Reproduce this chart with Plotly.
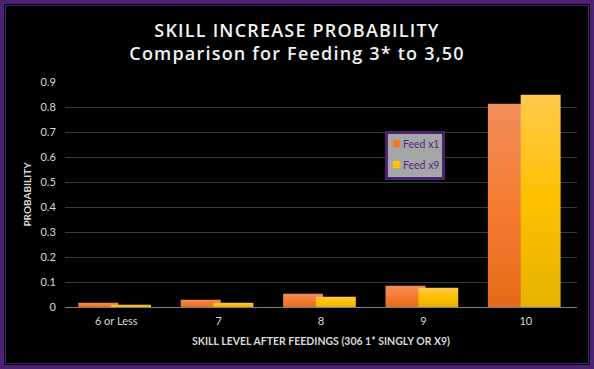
import plotly.graph_objects as go

categories = ["6 or Less", "7", "8", "9", "10"]
feed_x1 = [0.017, 0.029, 0.053, 0.085, 0.813]
feed_x9 = [0.009, 0.017, 0.041, 0.077, 0.849]
series_names = ["Feed x1", "Feed x9"]
y_ticks = [0, 0.1, 0.2, 0.3, 0.4, 0.5, 0.6, 0.7, 0.8, 0.9]

W, H = 594, 369
L, R, T, B = 65, 17, 82, 62
pw, ph = W - L - R, H - T - B

def px_x(p):
    return (p - L) / pw

def px_y(p):
    return (H - B - p) / ph

PURPLE = "#4B2272"
TXT = "#D9D9D9"

fig = go.Figure()
fig.add_trace(go.Bar(x=categories, y=feed_x1, name=series_names[0],
                     marker=dict(color="#F27A2C", line=dict(width=0)),
                     width=0.39, offset=-0.37))
fig.add_trace(go.Bar(x=categories, y=feed_x9, name=series_names[1],
                     marker=dict(color="#FDC10C", line=dict(width=0)),
                     width=0.39, offset=-0.05))

shapes = [
    dict(type="rect", xref="paper", yref="paper", layer="below",
         x0=px_x(4), x1=px_x(590), y0=px_y(365), y1=px_y(4),
         fillcolor="black", line=dict(width=0)),
    dict(type="rect", xref="paper", yref="paper", layer="below",
         x0=px_x(5.5), x1=px_x(588.5), y0=px_y(363.5), y1=px_y(5.5),
         fillcolor="rgba(0,0,0,0)", line=dict(color=PURPLE, width=1)),
]

fig.update_layout(
    width=W, height=H,
    margin=dict(l=L, r=R, t=T, b=B),
    paper_bgcolor=PURPLE,
    plot_bgcolor="black",
    barmode="overlay",
    shapes=shapes,
    title=dict(
        text="SKILL INCREASE PROBABILITY<br>Comparison for Feeding 3* to 3,50",
        x=0.5, xanchor="center", xref="container",
        y=1 - 37 / H, yanchor="middle", yref="container",
        font=dict(family="Open Sans", size=18, color="#F2F2F2", weight=600),
    ),
    legend=dict(
        x=px_x(385), y=px_y(131), xanchor="left", yanchor="top",
        bgcolor="#A6A6A6", bordercolor=PURPLE, borderwidth=3,
        font=dict(family="Lato", size=10.5, color="#4F2A78"),
        itemwidth=30,
        tracegroupgap=2,
    ),
    font=dict(family="Lato", color=TXT),
)

fig.update_xaxes(
    type="category",
    showgrid=False,
    showline=True, linecolor="#7F7F7F", linewidth=1,
    ticks="outside", ticklen=4, tickcolor="rgba(0,0,0,0)",
    tickfont=dict(family="Lato", size=11, color=TXT),
    title=dict(text="SKILL LEVEL AFTER FEEDINGS (306 1* SINGLY OR X9)",
               font=dict(family="Lato", size=10.5, color=TXT, weight="bold"),
               standoff=11),
)
fig.update_yaxes(
    range=[0, 0.9],
    tickvals=y_ticks, ticktext=[f"{v:g}" for v in y_ticks],
    showgrid=True, gridcolor="#3A3A3A", gridwidth=1,
    zeroline=True, zerolinecolor="#7F7F7F", zerolinewidth=1,
    ticks="outside", ticklen=6, tickcolor="rgba(0,0,0,0)",
    tickfont=dict(family="Lato", size=11, color=TXT),
    title=dict(text="PROBABILITY",
               font=dict(family="Lato", size=10, color=TXT, weight="bold"),
               standoff=6),
)

post = """
document.documentElement.style.margin='0';
document.body.style.margin='0';
document.body.style.overflow='hidden';
var st=document.createElement('style');
st.textContent='.gtitle{letter-spacing:1.2px;}';
document.head.appendChild(st);
(function(){
  var gd=document.getElementById('{plot_id}');
  var NS='http://www.w3.org/2000/svg';
  var grads=[['gx1',[[0,'#F08D5C'],[0.5,'#F57C30'],[1,'#E56B1B']]],
             ['gx9',[[0,'#FFC94C'],[0.5,'#FFC000'],[1,'#E5B300']]]];
  var dy=[-5,-3];
  function apply(){
    try{
      var svg=gd.querySelector('svg.main-svg');
      var defs=svg.querySelector('defs');
      grads.forEach(function(g){
        if(document.getElementById(g[0]))return;
        var lg=document.createElementNS(NS,'linearGradient');
        lg.setAttribute('id',g[0]);
        lg.setAttribute('x1','0');lg.setAttribute('y1','0');
        lg.setAttribute('x2','0');lg.setAttribute('y2','1');
        g[1].forEach(function(s){
          var stp=document.createElementNS(NS,'stop');
          stp.setAttribute('offset',s[0]);
          stp.setAttribute('stop-color',s[1]);
          lg.appendChild(stp);
        });
        defs.appendChild(lg);
      });
      var traces=gd.querySelectorAll('.barlayer .trace');
      traces.forEach(function(t,i){
        t.querySelectorAll('path').forEach(function(p){
          p.style.fill='url(#'+grads[i][0]+')';
        });
      });
      var items=gd.querySelectorAll('.legend .traces');
      items.forEach(function(it,i){
        if(it.dataset.moved)return;
        it.dataset.moved=1;
        var tx=it.querySelector('text.legendtext');
        if(tx){tx.setAttribute('x',15);}
        it.querySelectorAll('.legendpoints path').forEach(function(p){
          p.setAttribute('transform','translate(8.5,0) scale(0.6)');
        });
        var tr=it.getAttribute('transform')||'';
        var m=tr.match(/translate\\(([-\\d.]+)[ ,]+([-\\d.]+)\\)/);
        if(m){it.setAttribute('transform','translate('+m[1]+','+(parseFloat(m[2])+(dy[i]||0))+')');}
      });
      var bg=gd.querySelector('.legend rect.bg');
      if(bg && !bg.dataset.moved){
        bg.setAttribute('width',parseFloat(bg.getAttribute('width'))-28);
        bg.setAttribute('height',parseFloat(bg.getAttribute('height'))-5);
        bg.dataset.moved=1;
      }
    }catch(e){}
  }
  apply();
  if(gd.on){gd.on('plotly_afterplot',apply);}
})();
"""

fig.write_html("out.html", post_script=post, config={"displayModeBar": False})
